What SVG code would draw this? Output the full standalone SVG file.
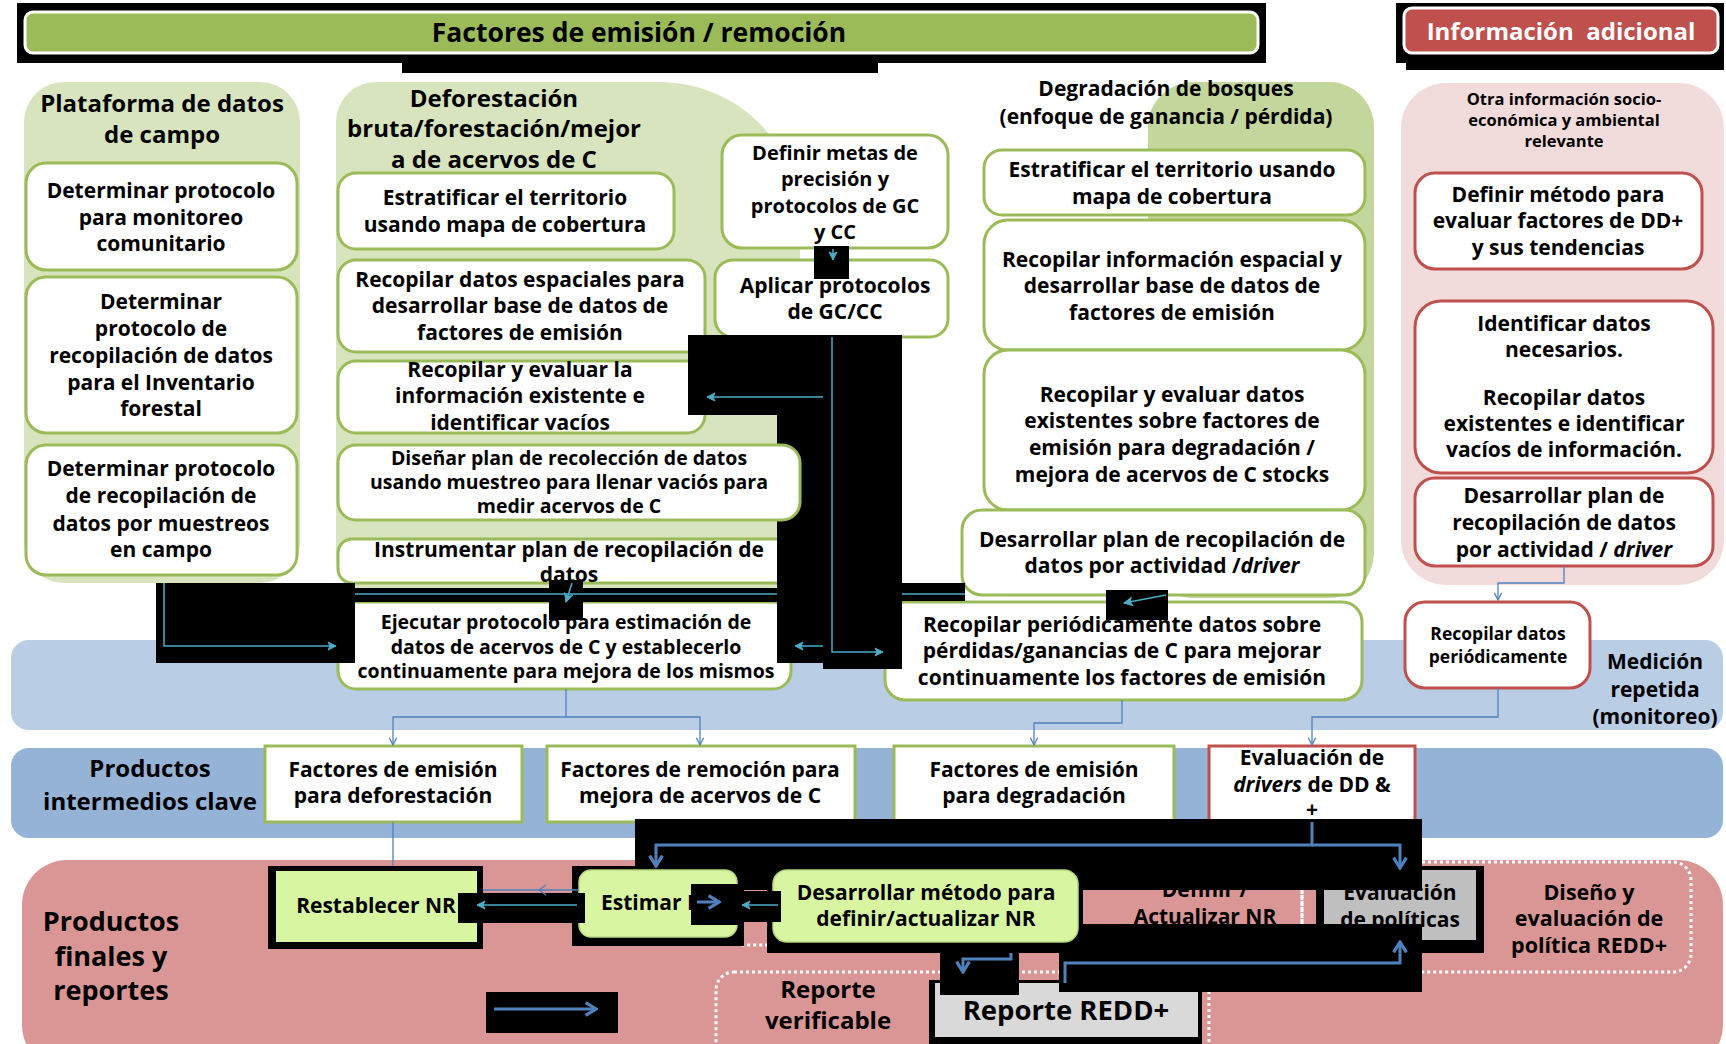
<svg xmlns="http://www.w3.org/2000/svg" width="1726" height="1044" viewBox="0 0 1726 1044">
<style>
.t{font-family:'Open Sans','Liberation Sans',sans-serif;font-weight:700;fill:#000;text-anchor:middle;font-size:21px}
.bx{fill:#fff;stroke:#9BBB59;stroke-width:3}
.rb{fill:#fff;stroke:#C0504D;stroke-width:3}
.lime{fill:#D8F6A2;stroke:#B5D77F;stroke-width:1.5}
.k{fill:#000}
.c1{fill:none;stroke:#4F81BD;stroke-width:1.3}
.c2{fill:none;stroke:#4BACC6;stroke-width:1.5}
.c3{fill:none;stroke:#4F81BD;stroke-width:3}
.dot{fill:none;stroke:#fff;stroke-width:3;stroke-dasharray:3 3}
.i{font-style:italic}
</style>
<defs>
<marker id="mb" viewBox="0 0 10 10" refX="9" refY="5" markerWidth="9" markerHeight="9" orient="auto" markerUnits="userSpaceOnUse"><path d="M1,1 L9,5 L1,9" fill="none" stroke="#4F81BD" stroke-width="1.4"/></marker>
<marker id="mt" viewBox="0 0 10 10" refX="9" refY="5" markerWidth="10" markerHeight="10" orient="auto" markerUnits="userSpaceOnUse"><path d="M1,1 L9,5 L1,9 L3,5 Z" fill="#4BACC6" stroke="#4BACC6" stroke-width="1"/></marker>
<marker id="mk" viewBox="0 0 10 10" refX="8.5" refY="5" markerWidth="16" markerHeight="16" orient="auto" markerUnits="userSpaceOnUse"><path d="M2,1 L8.5,5 L2,9" fill="none" stroke="#4F81BD" stroke-width="2"/></marker>
</defs>

<!-- headers -->
<g id="header-factores">
<rect class="k" x="17" y="3" width="1249" height="60"/>
<rect class="k" x="402" y="55" width="476" height="18"/>
<rect x="25" y="12" width="1233" height="41" rx="8" fill="#9BBB59" stroke="#fff" stroke-width="3"/>
<text class="t" x="639" y="42" style="font-size:26.5px">Factores de emisión / remoción</text>
</g>
<g id="header-info">
<rect class="k" x="1396" y="3" width="328" height="60"/>
<rect class="k" x="1406" y="55" width="318" height="15"/>
<rect x="1404" y="8" width="314" height="45" rx="8" fill="#C0504D" stroke="#fff" stroke-width="3"/>
<text class="t" x="1561" y="40" style="font-size:24px;fill:#fff;white-space:pre">Información  adicional</text>
</g>

<!-- panels -->
<g id="panels">
<rect x="24" y="82" width="276" height="501" rx="40" fill="#D7E4BD"/>
<path d="M376,82 H660 A140,140 0 0 1 800,222 V598 H376 A40,40 0 0 1 336,558 V122 A40,40 0 0 1 376,82 Z" fill="#D7E4BD"/>
<rect x="1148" y="82" width="226" height="516" rx="45" fill="#C3D69B"/>
<rect x="1401" y="83" width="323" height="502" rx="45" fill="#F2DCDB"/>
<rect x="11" y="640" width="1712" height="90" rx="18" fill="#B9CDE5"/>
<rect x="11" y="748" width="1712" height="90" rx="18" fill="#95B3D7"/>
<rect x="22" y="860" width="1701" height="210" rx="45" fill="#D99694"/>
<rect class="dot" x="725" y="858" width="577" height="87" rx="18"/>
<rect class="dot" x="1302" y="862" width="389" height="110" rx="18"/>
<rect class="dot" x="716" y="972" width="493" height="100" rx="18"/>
</g>

<g id="labels">
<text class="t" style="font-size:24px"><tspan x="162" y="112">Plataforma de datos</tspan><tspan x="162" y="143">de campo</tspan></text>
<text class="t" style="font-size:24px"><tspan x="494" y="107">Deforestación</tspan><tspan x="494" y="137">bruta/forestación/mejor</tspan><tspan x="494" y="168">a de acervos de C</tspan></text>
<text class="t"><tspan x="1166" y="96">Degradación de bosques</tspan><tspan x="1166" y="124">(enfoque de ganancia / pérdida)</tspan></text>
<text class="t" style="font-size:16.5px"><tspan x="1564" y="105">Otra información socio-</tspan><tspan x="1564" y="126">económica y ambiental</tspan><tspan x="1564" y="147">relevante</tspan></text>
<text class="t" style="font-size:21px"><tspan x="1655" y="669">Medición</tspan><tspan x="1655" y="697">repetida</tspan><tspan x="1655" y="724">(monitoreo)</tspan></text>
<text class="t" style="font-size:24px"><tspan x="150" y="777">Productos</tspan><tspan x="150" y="810">intermedios clave</tspan></text>
<text class="t" style="font-size:27px"><tspan x="111" y="931">Productos</tspan><tspan x="111" y="966">finales y</tspan><tspan x="111" y="1000">reportes</tspan></text>
<text class="t" style="font-size:21.5px"><tspan x="1589" y="900">Diseño y</tspan><tspan x="1589" y="926">evaluación de</tspan><tspan x="1589" y="953">política REDD+</tspan></text>
<text class="t" style="font-size:24px"><tspan x="828" y="998">Reporte</tspan><tspan x="828" y="1029">verificable</tspan></text>
</g>

<!-- left column -->
<g id="n-l1"><rect class="bx" x="26" y="163" width="271" height="107" rx="20"/>
<text class="t"><tspan x="161" y="198">Determinar protocolo</tspan><tspan x="161" y="225">para monitoreo</tspan><tspan x="161" y="251">comunitario</tspan></text></g>
<g id="n-l2"><rect class="bx" x="26" y="277" width="271" height="156" rx="20"/>
<text class="t"><tspan x="161" y="309">Determinar</tspan><tspan x="161" y="336">protocolo de</tspan><tspan x="161" y="363">recopilación de datos</tspan><tspan x="161" y="390">para el Inventario</tspan><tspan x="161" y="416">forestal</tspan></text></g>
<g id="n-l3"><rect class="bx" x="26" y="445" width="271" height="130" rx="20"/>
<text class="t"><tspan x="161" y="476">Determinar protocolo</tspan><tspan x="161" y="503">de recopilación de</tspan><tspan x="161" y="531">datos por muestreos</tspan><tspan x="161" y="557">en campo</tspan></text></g>

<!-- deforestation column -->
<g id="n-d1"><rect class="bx" x="338" y="173" width="336" height="76" rx="18"/>
<text class="t"><tspan x="505" y="205">Estratificar el territorio</tspan><tspan x="505" y="232">usando mapa de cobertura</tspan></text></g>
<g id="n-d2"><rect class="bx" x="338" y="260" width="367" height="92" rx="18"/>
<text class="t"><tspan x="520" y="287">Recopilar datos espaciales para</tspan><tspan x="520" y="313">desarrollar base de datos de</tspan><tspan x="520" y="340">factores de emisión</tspan></text></g>
<g id="n-d3"><rect class="bx" x="338" y="361" width="367" height="72" rx="18"/>
<text class="t"><tspan x="520" y="377">Recopilar y evaluar la</tspan><tspan x="520" y="403">información existente e</tspan><tspan x="520" y="430">identificar vacíos</tspan></text></g>
<g id="n-d5"><rect class="bx" x="338" y="539" width="462" height="44" rx="14"/>
<text class="t"><tspan x="569" y="557">Instrumentar plan de recopilación de</tspan><tspan x="569" y="582">datos</tspan></text></g>
<g id="n-d6"><rect class="bx" x="338" y="602" width="453" height="87" rx="18"/>
<text class="t" style="font-size:19.5px"><tspan x="566" y="629">Ejecutar protocolo para estimación de</tspan><tspan x="566" y="654">datos de acervos de C y establecerlo</tspan><tspan x="566" y="678">continuamente para mejora de los mismos</tspan></text></g>
<g id="n-m1"><rect class="bx" x="722" y="135" width="226" height="113" rx="20"/>
<text class="t" style="font-size:20px"><tspan x="835" y="160">Definir metas de</tspan><tspan x="835" y="186">precisión y</tspan><tspan x="835" y="213">protocolos de GC</tspan><tspan x="835" y="239">y CC</tspan></text></g>
<g id="n-m2"><rect class="bx" x="715" y="260" width="233" height="77" rx="18"/>
<text class="t"><tspan x="835" y="293">Aplicar protocolos</tspan><tspan x="835" y="319">de GC/CC</tspan></text></g>

<!-- degradation column -->
<g id="n-g1"><rect class="bx" x="984" y="150" width="381" height="65" rx="18"/>
<text class="t"><tspan x="1172" y="177">Estratificar el territorio usando</tspan><tspan x="1172" y="204">mapa de cobertura</tspan></text></g>
<g id="n-g2"><rect class="bx" x="984" y="220" width="381" height="130" rx="24"/>
<text class="t"><tspan x="1172" y="267">Recopilar información espacial y</tspan><tspan x="1172" y="293">desarrollar base de datos de</tspan><tspan x="1172" y="320">factores de emisión</tspan></text></g>
<g id="n-g3"><rect class="bx" x="984" y="350" width="381" height="160" rx="24"/>
<text class="t"><tspan x="1172" y="402">Recopilar y evaluar datos</tspan><tspan x="1172" y="428">existentes sobre factores de</tspan><tspan x="1172" y="455">emisión para degradación /</tspan><tspan x="1172" y="482">mejora de acervos de C stocks</tspan></text></g>
<g id="n-g4"><rect class="bx" x="962" y="510" width="403" height="85" rx="20"/>
<text class="t"><tspan x="1162" y="547">Desarrollar plan de recopilación de</tspan><tspan x="1162" y="573">datos por actividad /<tspan class="i">driver</tspan></tspan></text></g>
<g id="n-g5"><rect class="bx" x="885" y="602" width="477" height="98" rx="20"/>
<text class="t"><tspan x="1122" y="632">Recopilar periódicamente datos sobre</tspan><tspan x="1122" y="658">pérdidas/ganancias de C para mejorar</tspan><tspan x="1122" y="685">continuamente los factores de emisión</tspan></text></g>

<!-- info column -->
<g id="n-i1"><rect class="rb" x="1415" y="173" width="287" height="96" rx="20"/>
<text class="t"><tspan x="1558" y="202">Definir método para</tspan><tspan x="1558" y="228">evaluar factores de DD+</tspan><tspan x="1558" y="255">y sus tendencias</tspan></text></g>
<g id="n-i2"><rect class="rb" x="1415" y="301" width="298" height="172" rx="26"/>
<text class="t"><tspan x="1564" y="331">Identificar datos</tspan><tspan x="1564" y="357">necesarios.</tspan><tspan x="1564" y="405">Recopilar datos</tspan><tspan x="1564" y="431">existentes e identificar</tspan><tspan x="1564" y="457">vacíos de información.</tspan></text></g>
<g id="n-i3"><rect class="rb" x="1415" y="478" width="298" height="88" rx="20"/>
<text class="t"><tspan x="1564" y="503">Desarrollar plan de</tspan><tspan x="1564" y="530">recopilación de datos</tspan><tspan x="1564" y="557">por actividad / <tspan class="i">driver</tspan></tspan></text></g>
<g id="n-i4"><rect class="rb" x="1405" y="602" width="185" height="86" rx="20"/>
<text class="t" style="font-size:17.5px"><tspan x="1498" y="640">Recopilar datos</tspan><tspan x="1498" y="663">periódicamente</tspan></text></g>

<!-- intermediate products -->
<g id="n-b1"><rect class="bx" x="265" y="746" width="257" height="76"/>
<text class="t"><tspan x="393" y="777">Factores de emisión</tspan><tspan x="393" y="803">para deforestación</tspan></text></g>
<g id="n-b2"><rect class="bx" x="547" y="746" width="308" height="76"/>
<text class="t"><tspan x="700" y="777">Factores de remoción para</tspan><tspan x="700" y="803">mejora de acervos de C</tspan></text></g>
<g id="n-b3"><rect class="bx" x="894" y="746" width="280" height="76"/>
<text class="t"><tspan x="1034" y="777">Factores de emisión</tspan><tspan x="1034" y="803">para degradación</tspan></text></g>
<g id="n-b4"><rect class="rb" x="1209" y="746" width="206" height="76"/>
<text class="t"><tspan x="1312" y="765">Evaluación de</tspan><tspan x="1312" y="792"><tspan class="i">drivers</tspan> de DD &amp;</tspan><tspan x="1312" y="817">+</tspan></text></g>

<!-- bottom nodes behind artifacts -->
<g id="n-definir"><text class="t"><tspan x="1205" y="897">Definir /</tspan><tspan x="1205" y="924">Actualizar NR</tspan></text></g>
<g id="n-evalpol"><rect class="k" x="1316" y="866" width="168" height="87"/>
<rect x="1324" y="870" width="152" height="70" fill="#BFBFBF"/>
<text class="t"><tspan x="1400" y="900">Evaluación</tspan><tspan x="1400" y="927">de políticas</tspan></text></g>
<g id="n-reporte"><rect class="k" x="929" y="980" width="273" height="70"/>
<rect x="935" y="983" width="263" height="54" fill="#D9D9D9"/>
<text class="t" x="1066" y="1020" style="font-size:27.5px">Reporte REDD+</text></g>

<!-- black artifact blocks -->
<g id="blocks">
<rect class="k" x="688" y="335" width="214" height="80"/>
<rect class="k" x="777" y="415" width="125" height="248"/>
<rect class="k" x="823" y="640" width="79" height="29"/>
<rect class="k" x="355" y="588" width="422" height="14"/>
<rect class="k" x="902" y="583" width="63" height="18"/>
<rect class="k" x="156" y="583" width="199" height="80"/>
<rect class="k" x="549" y="580" width="34" height="40"/>
<rect class="k" x="1106" y="590" width="62" height="30"/>
<rect class="k" x="814" y="246" width="35" height="33"/>
<rect class="k" x="635" y="819" width="787" height="71"/>
<rect class="k" x="1059" y="924" width="363" height="68"/>
<rect class="k" x="767" y="866" width="316" height="87"/>
<rect class="k" x="572" y="866" width="172" height="80"/>
<rect class="k" x="268" y="866" width="215" height="83"/>
<rect class="k" x="486" y="992" width="132" height="41"/>
</g>

<g id="n-d4"><rect class="bx" x="338" y="445" width="462" height="75" rx="18"/>
<text class="t" style="font-size:19.5px"><tspan x="569" y="465">Diseñar plan de recolección de datos</tspan><tspan x="569" y="489">usando muestreo para llenar vaciós para</tspan><tspan x="569" y="513">medir acervos de C</tspan></text></g>

<g id="n-restablecer"><rect x="276" y="871" width="201" height="71" fill="#D8F6A2"/>
<text class="t" x="376" y="913">Restablecer NR</text></g>
<g id="n-estimar"><rect class="lime" x="579" y="870" width="158" height="67" rx="12"/>
<text class="t" x="601" y="910" style="text-anchor:start">Estimar NR</text></g>
<g id="n-desarrollar"><rect class="lime" x="773" y="870" width="305" height="72" rx="14"/>
<text class="t"><tspan x="926" y="900">Desarrollar método para</tspan><tspan x="926" y="926">definir/actualizar NR</tspan></text></g>

<g id="blocks2">
<rect class="k" x="691" y="884" width="53" height="41"/>
<rect class="k" x="744" y="891" width="37" height="31"/>
<rect class="k" x="458" y="893" width="127" height="30"/>
<rect class="k" x="940" y="953" width="79" height="42"/>
</g>

<!-- connectors -->
<g id="connectors">
<path class="c1" d="M566 689 V717 H393 V745" marker-end="url(#mb)"/>
<path class="c1" d="M566 717 H700 V745" marker-end="url(#mb)"/>
<path class="c1" d="M1122 700 V723 H1034 V745" marker-end="url(#mb)"/>
<path class="c1" d="M1498 688 V717 H1312 V745" marker-end="url(#mb)"/>
<path class="c1" d="M1564 566 V583 H1498 V600" marker-end="url(#mb)"/>
<path class="c1" d="M393 822 V866"/>
<path class="c1" d="M579 890 H483"/>
<path class="c1" d="M546 885 L539 890 L546 895"/>
<path class="c2" d="M164 583 V646 H336" marker-end="url(#mt)"/>
<path class="c2" d="M355 594 H777 M902 594 H965"/>
<path class="c2" d="M572 583 L566 602" marker-end="url(#mt)"/>
<path class="c2" d="M832 337 V652 H883" marker-end="url(#mt)"/>
<path class="c2" d="M823 397 H707" marker-end="url(#mt)"/>
<path class="c2" d="M823 646 H795" marker-end="url(#mt)"/>
<path class="c2" d="M1166 595 L1124 603" marker-end="url(#mt)"/>
<path class="c2" d="M833 249 V260" marker-end="url(#mt)"/>
<path class="c2" d="M577 905 H477" marker-end="url(#mt)"/>
<path class="c2" d="M778 905 H742" marker-end="url(#mt)"/>
<path class="c3" d="M1312 822 V845 H656 V866" marker-end="url(#mk)"/>
<path class="c3" d="M1312 845 H1400 V868" marker-end="url(#mk)"/>
<path class="c3" d="M1011 953 V959 H963 V972" marker-end="url(#mk)"/>
<path class="c3" d="M1065 983 V963 H1400 V942" marker-end="url(#mk)"/>
<path class="c3" d="M697 902 H719" marker-end="url(#mk)"/>
<path class="c3" d="M494 1009 H596" marker-end="url(#mk)"/>
</g>
</svg>
